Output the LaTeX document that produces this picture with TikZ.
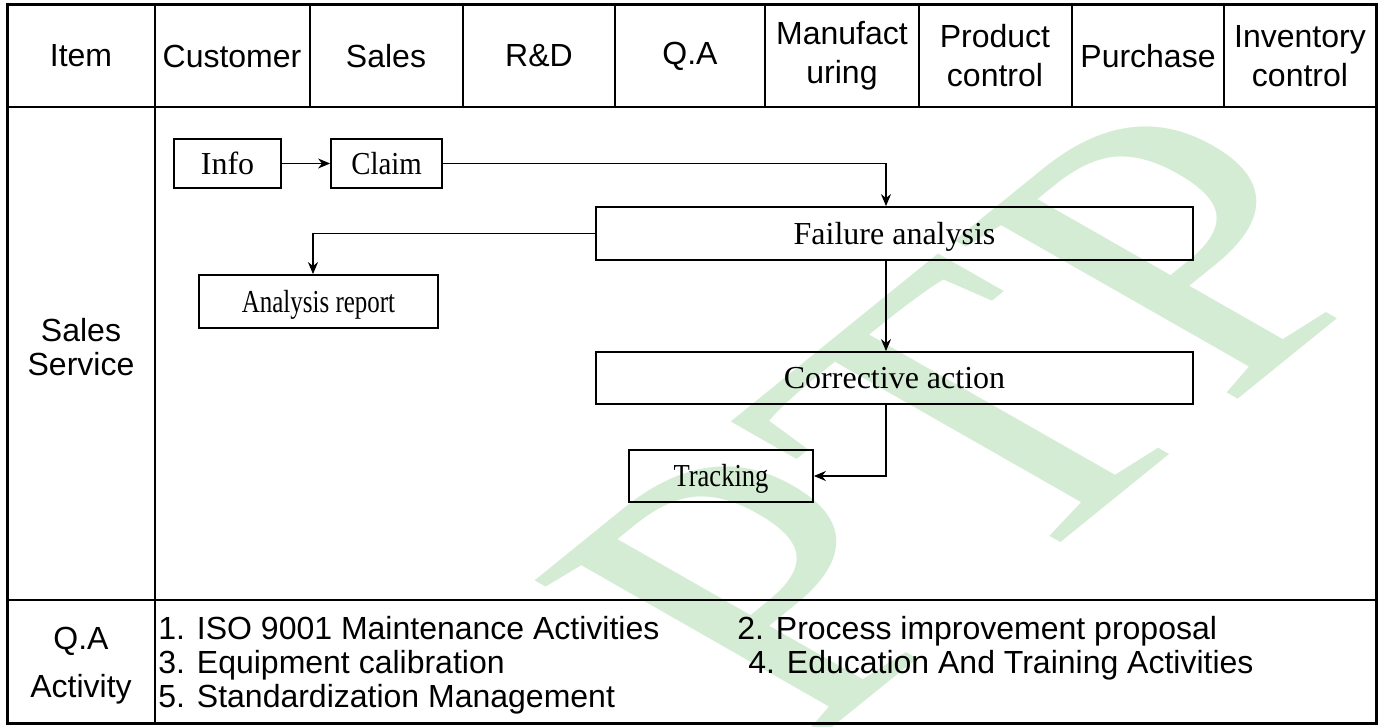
\documentclass[tikz,border=0pt]{standalone}
\usepackage{fontspec}
\setmainfont{Liberation Serif}
\setsansfont{Liberation Sans}
\usetikzlibrary{arrows.meta}

\definecolor{wmgreen}{RGB}{212,236,212}

\begin{document}
\begin{tikzpicture}[x=0.5pt,y=-0.5pt,
  cell/.style={font=\sffamily\fontsize{16}{19.5}\selectfont,align=center,inner sep=0pt},
  qaitem/.style={font=\sffamily\fontsize{16}{17}\selectfont,anchor=west,inner sep=0pt,text height=11.5pt,text depth=0pt},
  flowbox/.style={draw,line width=0.9pt,inner sep=0pt,text height=10.6pt,text depth=0pt,font=\rmfamily\fontsize{16}{18}\selectfont},
  arr/.style={line width=0.6pt,-{Stealth[length=6pt,width=5pt]}},
  grid/.style={line width=1pt}]
\useasboundingbox (0,0) rectangle (1383,727);
\clip (0,0) rectangle (1383,727);
% watermark
\begin{scope}[shift={(975,418)}]
\node[text=wmgreen,font=\rmfamily\fontsize{280}{280}\selectfont,inner sep=0pt,yscale=0.68,rotate=50] (wm) at (0,0) {PTP};
\end{scope}
% table
\draw[line width=1.5pt] (7,5) rectangle (1376,723);
\draw[grid] (7,107) -- (1376,107);
\draw[grid] (7,600) -- (1376,600);
\draw[grid] (155,5) -- (155,723);
\foreach \x in {310,463,615,765,919,1072,1224}
  \draw[grid] (\x,5) -- (\x,107);
\foreach \x/\t/\n in {81/Item/item,232/Customer/cust,386/Sales/sales,539/R\&D/rd,690/Q.A/qa,
  842/{Manufact\\uring}/manu,995/{Product\\control}/prod,1148/Purchase/purch,1300/{Inventory\\control}/inv}
  \node[cell] (h\n) at (\x,56) {\t};
\node[cell,font=\sffamily\fontsize{16}{17}\selectfont] (lsales) at (81,347) {Sales\\Service};
\node[cell,font=\sffamily\fontsize{16}{24}\selectfont] (lqa) at (81,666) {Q.A\\Activity};
% QA activities
\node[qaitem] (qa1) at (158,628) {1. ISO 9001 Maintenance Activities};
\node[qaitem] (qa2) at (737,628) {2. Process improvement proposal};
\node[qaitem] (qa3) at (158,662) {3. Equipment calibration};
\node[qaitem] (qa4) at (748,662) {4. Education And Training Activities};
\node[qaitem] (qa5) at (158,696) {5. Standardization Management};
% flow
\node[flowbox,minimum width=53.5pt,minimum height=24.5pt] (info) at (227.5,163.5) {Info};
\node[flowbox,minimum width=55.5pt,minimum height=24.5pt] (claim) at (386.5,163.5) {\scalebox{0.9}[1]{Claim}};
\node[flowbox,minimum width=298.5pt,minimum height=26.5pt] (fail) at (894.5,233.5) {Failure analysis};
\node[flowbox,minimum width=119.5pt,minimum height=26.5pt] (report) at (318.5,301.5) {\scalebox{0.78}[1]{Analysis report}};
\node[flowbox,minimum width=298.5pt,minimum height=26pt] (corr) at (894.5,378) {Corrective action};
\node[flowbox,minimum width=92pt,minimum height=26pt] (track) at (721,476) {\scalebox{0.83}[1]{Tracking}};
\coordinate (spine) at (886,0);
\coordinate (drop) at (313,0);
\draw[arr] (info) -- (claim);
\draw[arr] (claim.east) -| (spine |- fail.north);
\draw[arr] (fail.west) -| (drop |- report.north);
\draw[arr] (spine |- fail.south) -- (spine |- corr.north);
\draw[arr] (spine |- corr.south) |- (track.east);
\end{tikzpicture}
\end{document}
